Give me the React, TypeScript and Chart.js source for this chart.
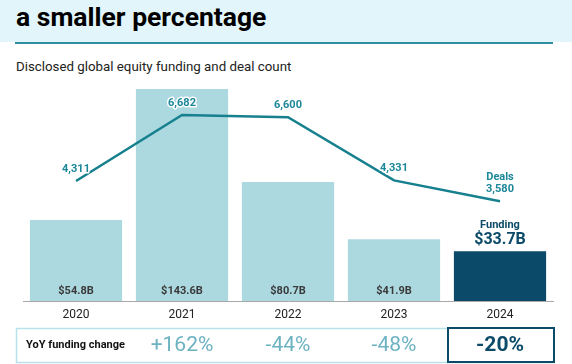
import React, { useEffect, useRef } from "react";
import { Chart, registerables } from "chart.js";

Chart.register(...registerables);

const years = ["2020", "2021", "2022", "2023", "2024"];
const fundingB = [54.8, 143.6, 80.7, 41.9, 33.7];
const deals = [4311, 6682, 6600, 4331, 3580];
const yoyChange = ["", "+162%", "-44%", "-48%", "-20%"];

const FONT = "Roboto, 'Noto Sans', Arial, sans-serif";
const LIGHT_BAR = "#acd8e0";
const NAVY = "#0b4a68";
const TEAL = "#16808f";
const TEAL_LABEL = "#1b8799";
const TABLE_TEXT = "#6cb2c1";
const TABLE_BORDER = "#b9e1e9";

const labelsPlugin = {
  id: "customLabels",
  afterDatasetsDraw(chart: any) {
    const ctx = chart.ctx;
    const barMeta = chart.getDatasetMeta(1);
    const lineMeta = chart.getDatasetMeta(0);
    ctx.save();
    ctx.textAlign = "center";
    ctx.textBaseline = "middle";
    barMeta.data.forEach((bar: any, i: number) => {
      const bottom = chart.chartArea.bottom;
      if (i < fundingB.length - 1) {
        ctx.font = `bold 11px ${FONT}`;
        ctx.fillStyle = "#3a3a3a";
        ctx.fillText(`$${fundingB[i].toFixed(1)}B`, bar.x, bottom - 10);
      } else {
        ctx.fillStyle = NAVY;
        ctx.font = `bold 11px ${FONT}`;
        ctx.fillText("Funding", bar.x, bar.y - 26);
        ctx.font = `bold 16px ${FONT}`;
        ctx.fillText(`$${fundingB[i].toFixed(1)}B`, bar.x, bar.y - 11);
      }
    });
    lineMeta.data.forEach((pt: any, i: number) => {
      ctx.font = `bold 11px ${FONT}`;
      ctx.lineJoin = "round";
      ctx.strokeStyle = "#ffffff";
      ctx.lineWidth = 3;
      ctx.fillStyle = TEAL_LABEL;
      const txt = deals[i].toLocaleString("en-US");
      ctx.strokeText(txt, pt.x, pt.y - 12);
      ctx.fillText(txt, pt.x, pt.y - 12);
      if (i === deals.length - 1) {
        ctx.strokeText("Deals", pt.x, pt.y - 24);
        ctx.fillText("Deals", pt.x, pt.y - 24);
      }
    });
    ctx.restore();
  },
  afterDraw(chart: any) {
    const ctx = chart.ctx;
    const xScale = chart.scales.x;
    const left = 16;
    const right = chart.chartArea.right;
    const top = 328;
    const bottom = 362;
    const midY = (top + bottom) / 2 + 0.5;
    ctx.save();
    ctx.strokeStyle = TABLE_BORDER;
    ctx.lineWidth = 1.5;
    ctx.strokeRect(left + 0.5, top + 0.5, right - left, bottom - top);
    ctx.textBaseline = "middle";
    ctx.textAlign = "left";
    ctx.fillStyle = "#111111";
    ctx.font = `bold 11px ${FONT}`;
    ctx.fillText("YoY funding change", 26, midY);
    ctx.textAlign = "center";
    for (let i = 1; i < yoyChange.length; i++) {
      const x = xScale.getPixelForValue(i);
      if (i === yoyChange.length - 1) {
        const half = xScale.width / years.length / 2;
        ctx.fillStyle = "#ffffff";
        ctx.fillRect(x - half, top - 1, half * 2 + 1, bottom - top + 2);
        ctx.strokeStyle = NAVY;
        ctx.lineWidth = 2;
        ctx.strokeRect(x - half + 1, top, half * 2, bottom - top);
        ctx.fillStyle = NAVY;
        ctx.font = `bold 21px ${FONT}`;
      } else {
        ctx.fillStyle = TABLE_TEXT;
        ctx.font = `21px ${FONT}`;
      }
      ctx.fillText(yoyChange[i], x, midY);
    }
    ctx.restore();
  },
};

export default function App() {
  const canvasRef = useRef<HTMLCanvasElement | null>(null);

  useEffect(() => {
    document.body.style.margin = "0";
    const canvas = canvasRef.current;
    if (!canvas) return;
    const chart = new Chart(canvas, {
      type: "bar",
      data: {
        labels: years,
        datasets: [
          {
            type: "line",
            label: "Deals",
            data: deals,
            yAxisID: "y2",
            borderColor: TEAL,
            borderWidth: 2.5,
            pointRadius: 0,
            tension: 0,
            order: 1,
          } as any,
          {
            type: "bar",
            label: "Funding",
            data: fundingB,
            yAxisID: "y",
            backgroundColor: fundingB.map((_, i) => (i === fundingB.length - 1 ? NAVY : LIGHT_BAR)),
            barPercentage: 0.87,
            categoryPercentage: 1,
            order: 2,
          },
        ],
      },
      options: {
        responsive: false,
        animation: false,
        devicePixelRatio: 1,
        layout: { padding: { left: 23, right: 19, top: 79.6, bottom: 43 } },
        plugins: { legend: { display: false }, tooltip: { enabled: false }, title: { display: false } },
        scales: {
          x: {
            offset: true,
            grid: { display: false, drawTicks: false },
            border: { display: true, color: "#a8a8a8", width: 1 },
            ticks: { color: "#222222", font: { family: FONT, size: 12 }, padding: 7, maxRotation: 0 },
            afterFit: (scale: any) => {
              scale.height = 20;
            },
          },
          y: { display: false, min: 0, max: 150 },
          y2: { display: false, min: 0, max: 7950 },
        },
      },
      plugins: [labelsPlugin],
    });
    return () => chart.destroy();
  }, []);

  return (
    <div style={{ position: "fixed", left: 0, top: 0, width: 572, height: 364, background: "#fff", overflow: "hidden", fontFamily: FONT }}>
      <div style={{ position: "absolute", left: 0, top: 0, width: 572, height: 42, background: "#e1f5fa" }} />
      <div
        style={{
          position: "absolute",
          left: 16,
          top: 4,
          fontSize: 26.5,
          lineHeight: "26px",
          fontWeight: 700,
          color: "#000",
          whiteSpace: "nowrap",
        }}
      >
        a smaller percentage
      </div>
      <div style={{ position: "absolute", left: 15, top: 42, width: 538, height: 2, background: "#2f8e9f" }} />
      <div
        style={{
          position: "absolute",
          left: 16,
          top: 60,
          fontSize: 13.3,
          lineHeight: "13px",
          color: "#222",
          whiteSpace: "nowrap",
        }}
      >
        Disclosed global equity funding and deal count
      </div>
      <canvas ref={canvasRef} width={572} height={364} style={{ position: "absolute", left: 0, top: 0 }} />
    </div>
  );
}
